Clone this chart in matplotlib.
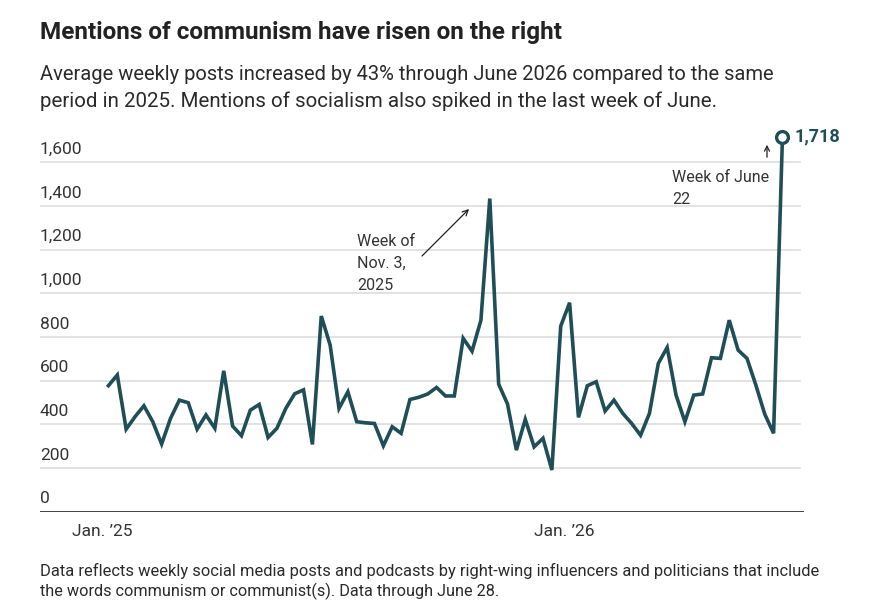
import matplotlib
matplotlib.use("Agg")
import matplotlib.pyplot as plt
import matplotlib.dates as mdates
from matplotlib.patches import FancyArrowPatch
import pandas as pd
import numpy as np

# ---- data ----
first_week = "2025-01-06"
values = [577, 626, 378, 435, 485, 412, 310, 427, 511, 499,
          378, 443, 382, 645, 392, 348, 465, 491, 340, 382,
          473, 540, 558, 308, 896, 763, 473, 549, 412, 407,
          404, 302, 389, 359, 514, 524, 539, 569, 530, 530,
          794, 735, 877, 1434, 584, 493, 282, 423, 297, 336,
          191, 850, 957, 432, 577, 595, 461, 511, 450, 404,
          350, 450, 679, 752, 534, 412, 534, 539, 705, 702,
          877, 740, 702, 580, 447, 359, 1718]
weeks = pd.date_range(first_week, periods=len(values), freq="W-MON")
y_ticks = [0, 200, 400, 600, 800, 1000, 1200, 1400, 1600]
x_tick_dates = ["2025-01-01", "2026-01-01"]
x_tick_labels = ["Jan. \u201925", "Jan. \u201926"]

title = "Mentions of communism have risen on the right"
subtitle = ["Average weekly posts increased by 43% through June 2026 compared to the same",
            "period in 2025. Mentions of socialism also spiked in the last week of June."]
footnote = ["Data reflects weekly social media posts and podcasts by right-wing influencers and politicians that include",
            "the words communism or communist(s). Data through June 28."]
note_peak = ["Week of", "Nov. 3,", "2025"]
note_last = ["Week of June", "22"]

plt.rcParams["font.family"] = ["Roboto", "DejaVu Sans"]

W, H = 889, 604
fig = plt.figure(figsize=(W / 100, H / 100), dpi=100)
renderer = fig.canvas.get_renderer()


def fx(px):
    return px / W


def fy(py):
    return 1 - py / H


def fit_text(x, y, s, target_w, size0, **kw):
    t = fig.text(fx(x), fy(y), s, fontsize=size0, ha="left", va="center", **kw)
    w = t.get_window_extent(renderer).width
    t.set_fontsize(size0 * target_w / w)
    return t


# axes geometry (pixels): x 40..804, y0 at 511.7, 1600 at 162.3
ppu = (511.7 - 162.3) / 1600
ymax = 1800
top_px = 511.7 - ymax * ppu
ax = fig.add_axes([fx(40), fy(511.7), fx(804) - fx(40), (511.7 - top_px) / H])

line_color = "#1f4e57"
text_color = "#2a2a2a"

x_left = mdates.date2num(pd.Timestamp("2024-11-13"))
x_right = mdates.date2num(pd.Timestamp("2026-07-09"))
ax.set_xlim(x_left, x_right)
ax.set_ylim(0, ymax)

for v in y_ticks[1:]:
    ax.axhline(v, color="#dddddd", lw=1.2, xmax=(800 - 40) / (804 - 40), zorder=1)
    ax.text(0, v + 25, f"{v:,}", transform=ax.get_yaxis_transform(), ha="left",
            va="bottom", fontsize=12.5, color="#333333")
ax.text(0, 25, "0", transform=ax.get_yaxis_transform(), ha="left",
        va="bottom", fontsize=12.5, color="#333333")
ax.axhline(0, color="#333333", lw=1.3, zorder=2)

ax.plot(weeks, values, color=line_color, lw=2.6, solid_joinstyle="miter", zorder=3)
ax.plot(weeks[-1:], values[-1:], marker="o", ms=8.5, mfc="white", mec=line_color,
        mew=2.4, zorder=4, clip_on=False)
ax.annotate(f"{values[-1]:,}", (weeks[-1], values[-1]), xytext=(9, 0),
            textcoords="offset points", ha="left", va="center", fontsize=13,
            fontweight="bold", color=line_color, annotation_clip=False)

for s in ax.spines.values():
    s.set_visible(False)
ax.set_yticks([])
ax.set_xticks(mdates.date2num(pd.to_datetime(x_tick_dates)))
ax.set_xticklabels(x_tick_labels, fontsize=12.5, color="#333333")
ax.tick_params(axis="x", length=0, pad=9)

# annotations
fig.add_artist(FancyArrowPatch(
    (fx(420), fy(258)), (fx(471), fy(207)), transform=fig.transFigure,
    arrowstyle="->", mutation_scale=10, color="#222222", lw=0.9))
for i, s in enumerate(note_peak):
    fig.text(fx(357), fy(241 + 22 * i), s, ha="left", va="center",
             fontsize=11.5, color="#333333")
for i, s in enumerate(note_last):
    fig.text(fx(672), fy(177 + 22 * i), s, ha="left", va="center",
             fontsize=11.5, color="#333333")

fig.add_artist(FancyArrowPatch(
    (fx(767), fy(160)), (fx(767), fy(142)), transform=fig.transFigure,
    arrowstyle="->", mutation_scale=9, color="#222222", lw=0.9))

fit_text(40, 33, title, 526, 15, fontweight="bold", color="#222222")
fit_text(40, 75, subtitle[0], 741, 14, color=text_color)
fit_text(40, 101, subtitle[1], 741 * 0.92, 14, color=text_color)
fit_text(40, 571, footnote[0], 772, 11, color=text_color)
fit_text(40, 591, footnote[1], 458, 11, color=text_color)

fig.savefig("out.png", dpi=100, facecolor="white")
